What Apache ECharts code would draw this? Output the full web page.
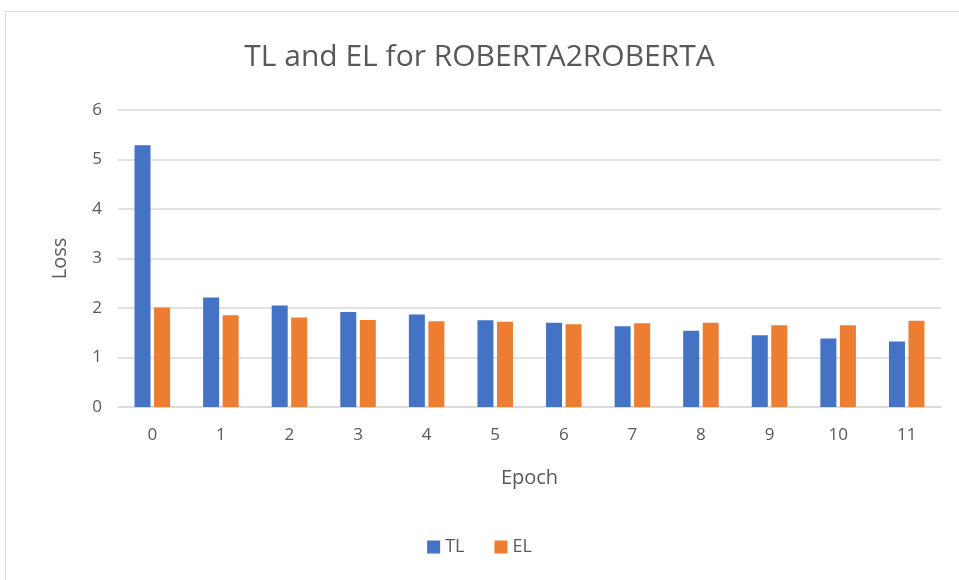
<!DOCTYPE html>
<html>
<head>
<meta charset="utf-8">
<script src="https://cdn.jsdelivr.net/npm/echarts@6/dist/echarts.min.js"></script>
<style>
  html, body { margin: 0; padding: 0; background: #fff; }
  #chart { width: 959px; height: 580px; }
</style>
</head>
<body>
<div id="chart"></div>
<script>
const epochs = ["0", "1", "2", "3", "4", "5", "6", "7", "8", "9", "10", "11"]
const tlValues = [5.29, 2.21, 2.05, 1.92, 1.87, 1.755, 1.70, 1.63, 1.54, 1.45, 1.385, 1.325]
const elValues = [2.01, 1.855, 1.81, 1.76, 1.73, 1.72, 1.67, 1.69, 1.70, 1.65, 1.65, 1.74]

const font = "'Open Sans', 'Liberation Sans', sans-serif"
const textColor = "#595959"

let option = {
  animation: false,
  textStyle: { fontFamily: font },
  title: {
    text: "TL and EL for ROBERTA2ROBERTA",
    left: "center",
    top: 37,
    textStyle: {
      color: textColor,
      fontSize: 30,
      fontWeight: "normal",
      fontFamily: font
    }
  },
  graphic: [
    {
      type: "rect",
      shape: { x: 5.5, y: 11.5, width: 960, height: 580 },
      style: { fill: "none", stroke: "#d9d9d9", lineWidth: 1 },
      silent: true
    }
  ],
  grid: {
    left: 118,
    right: 18,
    top: 110,
    bottom: 173,
    containLabel: false
  },
  legend: {
    data: ["TL", "EL"],
    bottom: 19,
    left: "center",
    icon: "rect",
    itemWidth: 13,
    itemHeight: 13,
    itemGap: 30,
    textStyle: { color: textColor, fontSize: 18, fontFamily: font }
  },
  xAxis: {
    type: "category",
    data: epochs,
    name: "Epoch",
    nameLocation: "middle",
    nameGap: 61,
    nameTextStyle: { color: textColor, fontSize: 20, fontFamily: font },
    axisLine: { lineStyle: { color: "#d9d9d9", width: 1.5 } },
    axisTick: { show: false },
    axisLabel: { color: textColor, fontSize: 17, margin: 20, fontFamily: font }
  },
  yAxis: {
    type: "value",
    min: 0,
    max: 6,
    interval: 1,
    name: "Loss",
    nameLocation: "middle",
    nameGap: 48,
    nameTextStyle: { color: textColor, fontSize: 20, fontFamily: font },
    axisLine: { show: false },
    axisTick: { show: false },
    axisLabel: { color: textColor, fontSize: 17, margin: 16, fontFamily: font },
    splitLine: { lineStyle: { color: "#d9d9d9", width: 1.5 } }
  },
  series: [
    {
      name: "TL",
      type: "bar",
      data: tlValues,
      barWidth: 16,
      barGap: "22%",
      itemStyle: { color: "#4472c4" }
    },
    {
      name: "EL",
      type: "bar",
      data: elValues,
      barWidth: 16,
      itemStyle: { color: "#ed7d31" }
    }
  ]
}

let chartEl = echarts.init(document.getElementById("chart"))
chartEl.setOption(option)
window.addEventListener("resize", () => chartEl.resize())
</script>
</body>
</html>
